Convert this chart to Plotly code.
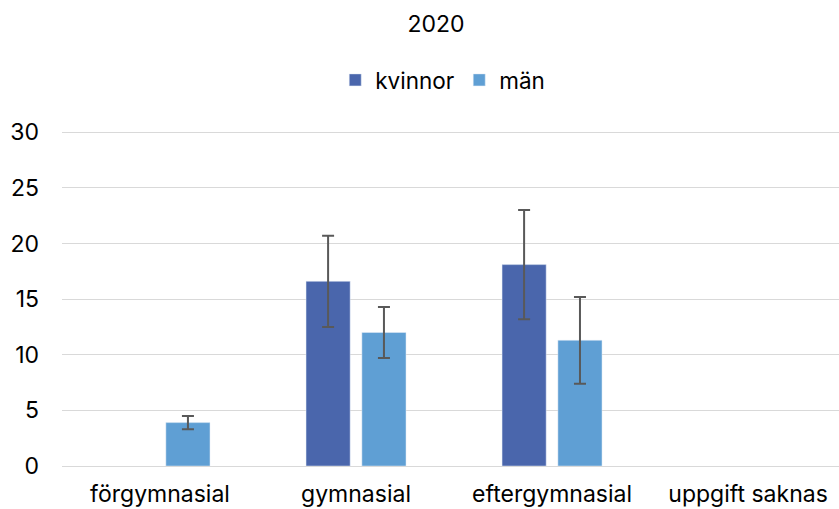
import plotly.graph_objects as go

categories = ["förgymnasial", "gymnasial", "eftergymnasial", "uppgift saknas"]
kvinnor = [None, 16.6, 18.1, None]
kvinnor_hi = [None, 20.7, 23.0, None]
kvinnor_lo = [None, 12.5, 13.2, None]
man = [3.9, 12.0, 11.3, None]
man_hi = [4.5, 14.3, 15.2, None]
man_lo = [3.3, 9.7, 7.4, None]

def err(vals, hi, lo):
    plus = [(h - v) if v is not None else None for v, h in zip(vals, hi)]
    minus = [(v - l) if v is not None else None for v, l in zip(vals, lo)]
    return plus, minus

kp, km = err(kvinnor, kvinnor_hi, kvinnor_lo)
mp, mm = err(man, man_hi, man_lo)

FONT = "Inter"
SIZE = 23
fig = go.Figure()
fig.add_trace(go.Bar(
    name="kvinnor", x=categories, y=kvinnor, marker_color="#4A66AC",
    error_y=dict(type="data", symmetric=False, array=kp, arrayminus=km,
                 color="#595959", thickness=2, width=6),
))
fig.add_trace(go.Bar(
    name="män", x=categories, y=man, marker_color="#5F9FD4",
    error_y=dict(type="data", symmetric=False, array=mp, arrayminus=mm,
                 color="#595959", thickness=2, width=6),
))

fig.update_layout(
    width=839, height=509,
    margin=dict(l=62, r=0, t=130, b=43),
    paper_bgcolor="white", plot_bgcolor="white",
    font=dict(family=FONT, size=SIZE, color="#000000"),
    title=dict(text="2020", x=436 / 839, xanchor="center", y=1 - 24 / 509, yanchor="middle",
               font=dict(size=SIZE, color="#000000")),
    barmode="group", bargap=0.43, bargroupgap=0.21,
    legend=dict(orientation="h", x=0.49, xanchor="center", y=1.148, yanchor="middle",
                font=dict(size=22.5), itemwidth=30, traceorder="normal"),
    xaxis=dict(showgrid=False, showline=False, ticks="", tickfont=dict(size=SIZE),
               range=[-0.5, 3.464], ticklabelstandoff=12),
    yaxis=dict(range=[0, 30.2], tickvals=[0, 5, 10, 15, 20, 25, 30], showgrid=True,
               gridcolor="#D9D9D9", gridwidth=1,
               zeroline=True, zerolinecolor="#D9D9D9", zerolinewidth=1,
               showline=False, ticks="", tickfont=dict(size=SIZE), ticklabelstandoff=22),
)

fig.write_html("out.html", config={"displayModeBar": False},
               post_script="document.body.style.margin='0';")
